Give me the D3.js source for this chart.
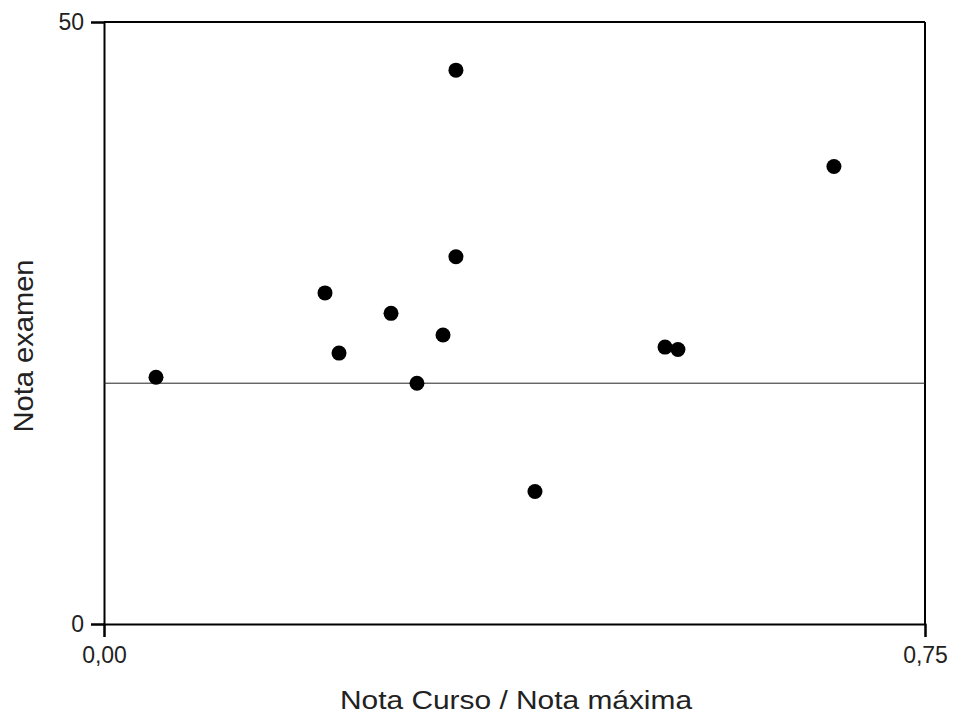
<!DOCTYPE html>
<html><head><meta charset="utf-8">
<script src="https://cdn.jsdelivr.net/npm/d3@7"></script>
<style>body{margin:0;background:#fff}svg text{font-family:"Liberation Sans",Arial,sans-serif}</style>
</head><body>
<svg id="c" width="954" height="716"></svg>
<script>
const xValues = [0.0475, 0.2019, 0.2147, 0.2622, 0.2859, 0.3097, 0.3215, 0.3215, 0.3937, 0.5125, 0.5243, 0.6668];
const yValues = [20.5, 27.5, 22.5, 25.8, 20.0, 24.0, 46.0, 30.5, 11.0, 23.0, 22.8, 38.0];
const xTicks = [0, 0.75];
const yTicks = [0, 50];
const refLine = 20;

const svg = d3.select("#c");
const L = 104, R = 925, T = 22, B = 624;
const x = d3.scaleLinear().domain([0, 0.75]).range([L, R]);
const y = d3.scaleLinear().domain([0, 50]).range([B, T]);
const fmt = d => d.toFixed(2).replace(".", ",");

// frame top/right
svg.append("line").attr("x1", L).attr("x2", R).attr("y1", T).attr("y2", T).attr("stroke", "#000").attr("stroke-width", 2);
svg.append("line").attr("x1", R).attr("x2", R).attr("y1", T).attr("y2", B).attr("stroke", "#000").attr("stroke-width", 2);

const xAxis = svg.append("g").attr("transform", `translate(0,${B})`)
  .call(d3.axisBottom(x).tickValues(xTicks).tickFormat(fmt).tickSizeOuter(0).tickSize(13).tickPadding(10));
const yAxis = svg.append("g").attr("transform", `translate(${L},0)`)
  .call(d3.axisLeft(y).tickValues(yTicks).tickFormat(d3.format("d")).tickSizeOuter(0).tickSize(13).tickPadding(7));
[xAxis, yAxis].forEach(g => {
  g.attr("font-size", 23).attr("font-family", "Liberation Sans, Arial, sans-serif");
  g.select(".domain").attr("stroke-width", 2);
  g.selectAll(".tick line").attr("stroke-width", 2);
  g.selectAll("text").attr("fill", "#222");
});

svg.append("line").attr("x1", L).attr("x2", R).attr("y1", y(refLine)).attr("y2", y(refLine))
  .attr("stroke", "#222").attr("stroke-width", 1);

svg.selectAll("circle.pt").data(xValues.map((v, i) => [v, yValues[i]])).enter()
  .append("circle").attr("class", "pt")
  .attr("cx", d => x(d[0])).attr("cy", d => y(d[1])).attr("r", 7.5).attr("fill", "#000");

svg.append("text").attr("x", 516).attr("y", 709).attr("text-anchor", "middle")
  .attr("font-size", 26).attr("fill", "#222").attr("textLength", 352).attr("lengthAdjust", "spacingAndGlyphs")
  .text("Nota Curso / Nota máxima");
svg.append("text").attr("transform", `translate(33,346) rotate(-90)`).attr("text-anchor", "middle")
  .attr("font-size", 28).attr("fill", "#222").attr("textLength", 173).attr("lengthAdjust", "spacingAndGlyphs")
  .text("Nota examen");
</script>
</body></html>
